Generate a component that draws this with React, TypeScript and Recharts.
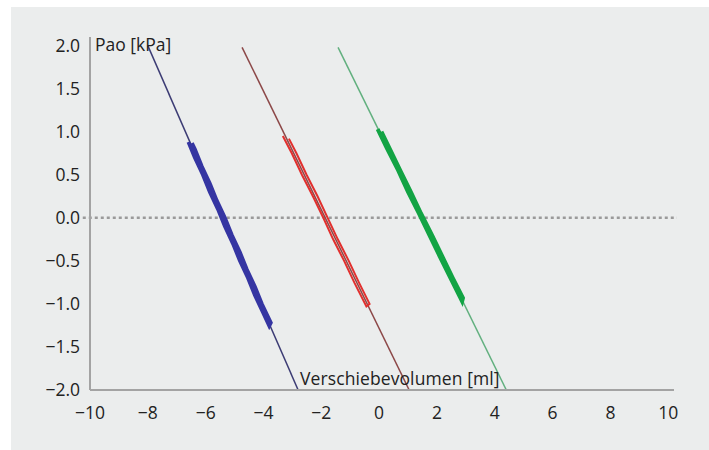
import React from "react";
import { LineChart, Line, XAxis, YAxis, ReferenceLine } from "recharts";

const xTicks = [-10, -8, -6, -4, -2, 0, 2, 4, 6, 8, 10];
const yTicks = [-2, -1.5, -1, -0.5, 0, 0.5, 1, 1.5, 2];

// fitted thin lines
const blueFit = [
  { x: -8.0, y: 2.0 },
  { x: -2.8, y: -2.0 },
];
const redFit = [
  { x: -4.74, y: 1.98 },
  { x: 1.04, y: -2.0 },
];
const greenFit = [
  { x: -1.42, y: 1.98 },
  { x: 4.4, y: -2.0 },
];

// measured loops (down branch, then up branch)
const blueLoop = [
  { x: -6.6, y: 0.88 },
  { x: -6.38, y: 0.7 },
  { x: -6.1, y: 0.5 },
  { x: -5.86, y: 0.3 },
  { x: -5.58, y: 0.1 },
  { x: -5.34, y: -0.1 },
  { x: -5.06, y: -0.3 },
  { x: -4.82, y: -0.5 },
  { x: -4.54, y: -0.7 },
  { x: -4.3, y: -0.9 },
  { x: -4.02, y: -1.1 },
  { x: -3.8, y: -1.26 },
  { x: -3.74, y: -1.22 },
  { x: -4.05, y: -1.0 },
  { x: -4.29, y: -0.8 },
  { x: -4.57, y: -0.6 },
  { x: -4.81, y: -0.4 },
  { x: -5.09, y: -0.2 },
  { x: -5.33, y: 0.0 },
  { x: -5.61, y: 0.2 },
  { x: -5.85, y: 0.4 },
  { x: -6.13, y: 0.6 },
  { x: -6.37, y: 0.8 },
  { x: -6.47, y: 0.87 },
];
const redLoop = [
  { x: -3.33, y: 0.95 },
  { x: -3.02, y: 0.75 },
  { x: -2.67, y: 0.5 },
  { x: -2.29, y: 0.25 },
  { x: -1.93, y: 0.0 },
  { x: -1.59, y: -0.25 },
  { x: -1.21, y: -0.5 },
  { x: -0.86, y: -0.75 },
  { x: -0.44, y: -1.03 },
  { x: -0.33, y: -1.0 },
  { x: -0.7, y: -0.75 },
  { x: -1.05, y: -0.5 },
  { x: -1.43, y: -0.25 },
  { x: -1.78, y: 0.0 },
  { x: -2.13, y: 0.25 },
  { x: -2.51, y: 0.5 },
  { x: -2.86, y: 0.75 },
  { x: -3.12, y: 0.92 },
];
const greenLoop = [
  { x: -0.05, y: 1.03 },
  { x: 0.28, y: 0.8 },
  { x: 0.66, y: 0.55 },
  { x: 1.0, y: 0.3 },
  { x: 1.38, y: 0.05 },
  { x: 1.74, y: -0.2 },
  { x: 2.1, y: -0.45 },
  { x: 2.47, y: -0.7 },
  { x: 2.87, y: -0.97 },
  { x: 2.9, y: -0.93 },
  { x: 2.55, y: -0.7 },
  { x: 2.19, y: -0.45 },
  { x: 1.83, y: -0.2 },
  { x: 1.45, y: 0.05 },
  { x: 1.1, y: 0.3 },
  { x: 0.73, y: 0.55 },
  { x: 0.37, y: 0.8 },
  { x: 0.08, y: 1.0 },
];

const zeroLine = [
  { x: -10.25, y: 0 },
  { x: 10.3, y: 0 },
];

const FONT = "'Open Sans', 'Noto Sans', sans-serif";
const TEXT = "#222222";
const fmtX = (v: number) => String(v).replace("-", "\u2212");
const fmtY = (v: number) => v.toFixed(1).replace("-", "\u2212");

export default function App() {
  return (
    <div
      style={{
        position: "absolute",
        left: 11,
        top: 7,
        width: 698,
        height: 443,
        background: "#ebeded",
        fontFamily: FONT,
      }}
    >
      <LineChart
        width={698}
        height={443}
        margin={{ top: 30, right: 35, bottom: 30, left: 19 }}
      >
        <XAxis
          dataKey="x"
          type="number"
          domain={[-10, 10.2]}
          ticks={xTicks}
          tickFormatter={fmtX}
          allowDataOverflow
          axisLine={{ stroke: "#a3a3a3", strokeWidth: 2 }}
          tickLine={false}
          tickSize={0}
          tickMargin={17}
          height={30}
          tick={{ fill: TEXT, fontSize: 17.5, fontFamily: FONT }}
        />
        <YAxis
          dataKey="y"
          type="number"
          domain={[-2, 2.1]}
          ticks={yTicks}
          tickFormatter={fmtY}
          allowDataOverflow
          axisLine={{ stroke: "#a3a3a3", strokeWidth: 2 }}
          tickLine={false}
          tickSize={0}
          tickMargin={10}
          width={60}
          tick={{ fill: TEXT, fontSize: 17.5, fontFamily: FONT }}
        />
        <ReferenceLine
          segment={zeroLine}
          ifOverflow="visible"
          stroke="#9a9a9a"
          strokeWidth={2.5}
          strokeDasharray="3 3"
        />
        <Line data={blueFit} dataKey="y" stroke="#3c3c74" strokeWidth={1.5} dot={false} isAnimationActive={false} />
        <Line data={redFit} dataKey="y" stroke="#8c4848" strokeWidth={1.5} dot={false} isAnimationActive={false} />
        <Line data={greenFit} dataKey="y" stroke="#62b07f" strokeWidth={1.5} dot={false} isAnimationActive={false} />
        <Line data={blueLoop} dataKey="y" stroke="#3535a2" strokeWidth={3.5} dot={false} isAnimationActive={false} />
        <Line data={redLoop} dataKey="y" stroke="#e2302e" strokeWidth={2} dot={false} isAnimationActive={false} />
        <Line data={greenLoop} dataKey="y" stroke="#12a444" strokeWidth={4} dot={false} isAnimationActive={false} />
      </LineChart>
      <div
        style={{
          position: "absolute",
          left: 84,
          top: 27,
          fontSize: 17.5,
          color: TEXT,
          lineHeight: "20px",
          whiteSpace: "nowrap",
        }}
      >
        Pao [kPa]
      </div>
      <div
        style={{
          position: "absolute",
          left: 289,
          top: 361,
          fontSize: 17.5,
          color: TEXT,
          lineHeight: "20px",
          whiteSpace: "nowrap",
          letterSpacing: 0.1,
        }}
      >
        Verschiebevolumen [ml]
      </div>
    </div>
  );
}
